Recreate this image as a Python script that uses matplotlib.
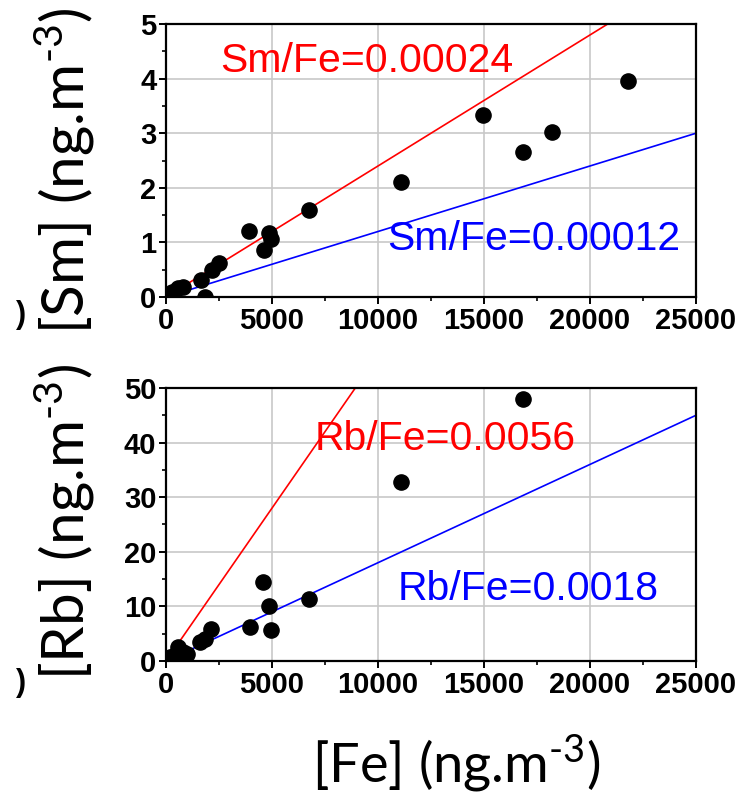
import matplotlib.pyplot as plt
import numpy as np

plt.rcParams['font.family'] = ['Liberation Sans', 'DejaVu Sans']
plt.rcParams['mathtext.fontset'] = 'custom'
plt.rcParams['mathtext.rm'] = 'Lato'
plt.rcParams['mathtext.it'] = 'Lato'

# Fe concentrations and the matching Sm / Rb values (ng.m-3)
fe_sm = [100, 267, 566, 818, 1635, 1840, 2154, 2516, 3931, 4623, 4873, 4939,
         6745, 11085, 14969, 16855, 18193, 21808]
sm = [0.03, 0.10, 0.16, 0.19, 0.31, 0.0, 0.49, 0.63, 1.21, 0.87, 1.18, 1.06,
      1.59, 2.11, 3.33, 2.66, 3.03, 3.96]

fe_rb = [189, 425, 583, 818, 975, 1604, 1840, 2107, 3962, 4591, 4858, 4939,
         6761, 11085, 16855]
rb = [0.8, 1.1, 2.5, 1.7, 1.3, 3.4, 4.0, 5.8, 6.3, 14.5, 10.1, 5.7,
      11.4, 32.7, 47.9]

sm_ratios = [0.00024, 0.00012]
rb_ratios = [0.0056, 0.0018]
line_colors = ['#ff0000', '#0000ff']

fig = plt.figure(figsize=(7.55, 7.95), dpi=100)
ax1 = fig.add_axes([0.2199, 0.6264, 0.702, 0.3434])
ax2 = fig.add_axes([0.2199, 0.1686, 0.702, 0.3434])

xline = np.array([0, 25000])


def style(ax, ymax, ystep):
    ax.set_xlim(0, 25000)
    ax.set_ylim(0, ymax)
    ax.set_xticks(np.arange(0, 25001, 5000))
    ax.set_xticks(np.arange(0, 25001, 2500), minor=True)
    ax.set_yticks(np.arange(0, ymax + ystep / 2, ystep))
    ax.set_yticks(np.arange(0, ymax + ystep / 4, ystep / 2), minor=True)
    ax.grid(True, which='major', color='#c8c8c8', lw=1.2)
    ax.set_axisbelow(True)
    for s in ax.spines.values():
        s.set_linewidth(1.6)
    ax.tick_params(which='major', direction='out', length=5, width=1.4,
                   labelsize=21, pad=2)
    ax.tick_params(which='minor', direction='out', length=3, width=1.2)
    for lab in ax.get_xticklabels() + ax.get_yticklabels():
        lab.set_fontweight('bold')


for ax, fe, vals, ratios, ymax, ystep in [(ax1, fe_sm, sm, sm_ratios, 5, 1),
                                          (ax2, fe_rb, rb, rb_ratios, 50, 10)]:
    style(ax, ymax, ystep)
    for r, c in zip(ratios, line_colors):
        ax.plot(xline, r * xline, color=c, lw=1.2, zorder=2)
    ax.scatter(fe, vals, s=120, color='black', zorder=3)

ax1.text(2547, 4.12, 'Sm/Fe=0.00024', color='#ff0000', fontsize=29.5,
         ha='left', va='baseline')
ax1.text(10425, 0.86, 'Sm/Fe=0.00012', color='#0000ff', fontsize=29.5,
         ha='left', va='baseline')
ax2.text(7028, 38.6, 'Rb/Fe=0.0056', color='#ff0000', fontsize=29.5,
         ha='left', va='baseline')
ax2.text(10943, 11.2, 'Rb/Fe=0.0018', color='#0000ff', fontsize=29.5,
         ha='left', va='baseline')

unit = ' (ng.m$^{\u20103}$)'
fig.text(0.086, 0.785, '[Sm]' + unit, rotation=90, fontsize=42,
         family='Lato', ha='center', va='center')
fig.text(0.086, 0.343, '[Rb]' + unit, rotation=90, fontsize=42,
         family='Lato', ha='center', va='center')
fig.text(0.604, 0.038, '[Fe]' + unit, fontsize=39,
         family='Lato', ha='center', va='center')

# clipped leftovers at the left margin
fig.text(0.034, 0.604, ')', fontsize=22, fontweight='bold', ha='right', va='center')
fig.text(0.034, 0.141, ')', fontsize=22, fontweight='bold', ha='right', va='center')

fig.savefig('out.png', dpi=100)
